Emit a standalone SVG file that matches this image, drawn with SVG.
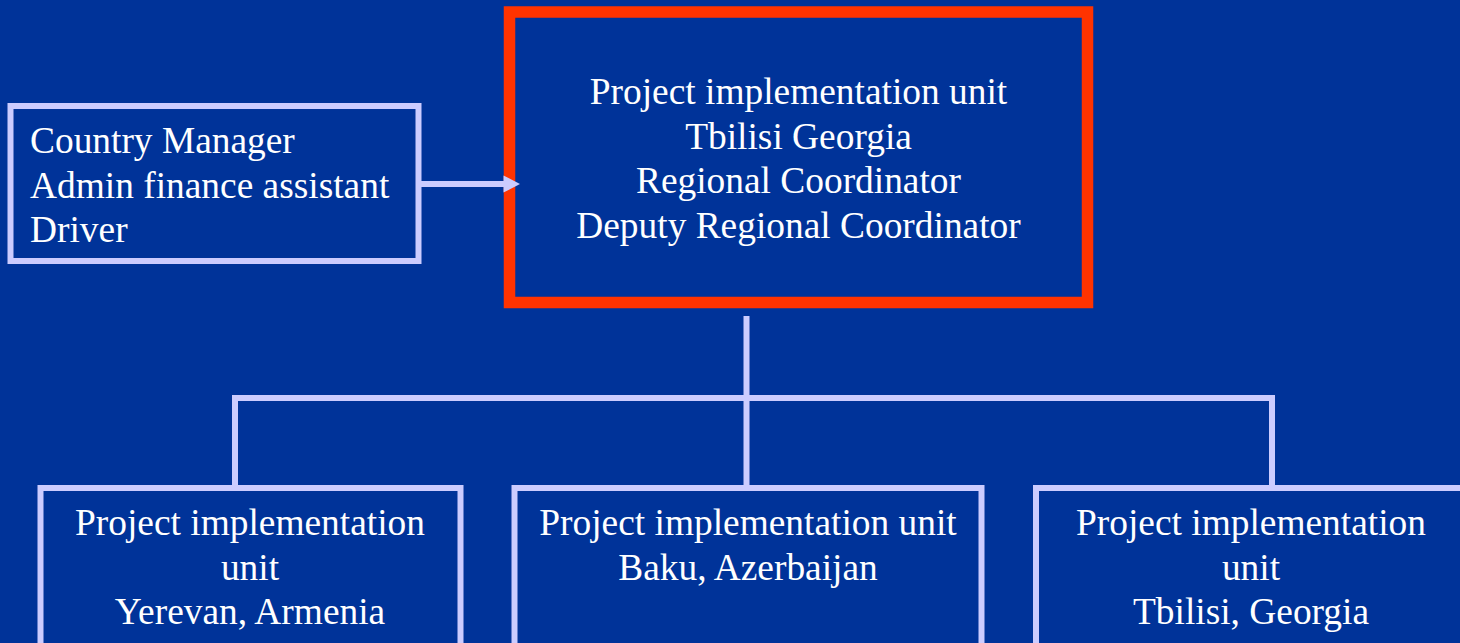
<svg xmlns="http://www.w3.org/2000/svg" width="1460" height="643" viewBox="0 0 1460 643">
<style>
.box{fill:#003399;stroke:#CCCCFF;stroke-width:6}
.main{fill:#003399;stroke:#FF3300;stroke-width:11.5}
.t{font-family:"Liberation Serif","Times New Roman",serif;font-size:37.4px;fill:#FFFFFF}
.c{text-anchor:middle}
.ln{stroke:#CCCCFF;stroke-width:6;fill:none}
</style>
<rect x="0" y="0" width="1460" height="643" fill="#003399"/>
<g id="country">
<rect class="box" x="10.5" y="106" width="408" height="155"/>
<text class="t" x="30" y="153">Country Manager</text>
<text class="t" x="30" y="197.5">Admin finance assistant</text>
<text class="t" x="30" y="241.5">Driver</text>
</g>
<g id="piu-main">
<rect class="main" x="509.5" y="12" width="578" height="290.5"/>
<text class="t c" x="798.5" y="103.5">Project implementation unit</text>
<text class="t c" x="798.5" y="148.5">Tbilisi Georgia</text>
<text class="t c" x="798.5" y="193">Regional Coordinator</text>
<text class="t c" x="798.5" y="237.5">Deputy Regional Coordinator</text>
</g>
<g id="piu-yerevan">
<rect class="box" x="40.5" y="488" width="420" height="158"/>
<text class="t c" x="250" y="535">Project implementation</text>
<text class="t c" x="250" y="580">unit</text>
<text class="t c" x="250" y="624">Yerevan, Armenia</text>
</g>
<g id="piu-baku">
<rect class="box" x="514.5" y="488" width="467" height="158"/>
<text class="t c" x="748" y="535">Project implementation unit</text>
<text class="t c" x="748" y="580">Baku, Azerbaijan</text>
</g>
<g id="piu-tbilisi">
<rect class="box" x="1036" y="488" width="430" height="158"/>
<text class="t c" x="1251" y="535">Project implementation</text>
<text class="t c" x="1251" y="580">unit</text>
<text class="t c" x="1251" y="624">Tbilisi, Georgia</text>
</g>
<g id="connectors">
<line class="ln" x1="421" y1="184" x2="505" y2="184"/>
<polygon points="503.5,175.5 520,184 503.5,192.5" fill="#CCCCFF"/>
<line class="ln" x1="746.5" y1="316" x2="746.5" y2="485"/>
<polyline class="ln" points="235,485 235,398 1272,398 1272,485"/>
</g>
</svg>
